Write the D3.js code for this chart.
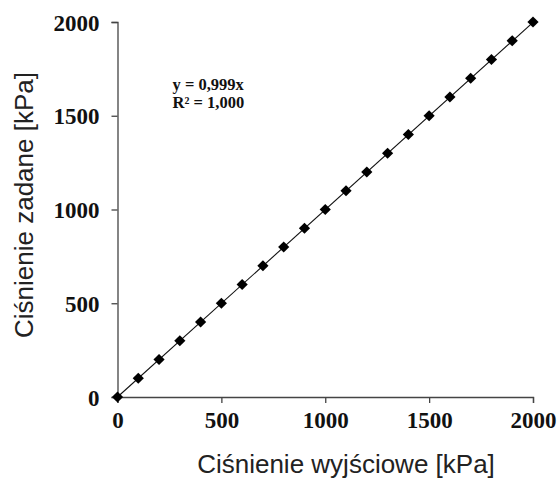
<!DOCTYPE html>
<html>
<head>
<meta charset="utf-8">
<script src="https://cdn.jsdelivr.net/npm/d3@7"></script>
<style>
  body { margin: 0; background: #fff; }
</style>
</head>
<body>
<div id="chart"></div>
<script>
// dane pomiarowe
const wyjsciowe = [0, 100, 200, 300, 400, 500, 600, 700, 800, 900, 1000, 1100, 1200, 1300, 1400, 1500, 1600, 1700, 1800, 1900, 2000];
const zadane = [0, 100, 200, 300, 400, 500, 600, 700, 800, 900, 1000, 1100, 1200, 1300, 1400, 1500, 1600, 1700, 1800, 1900, 2000];
const xTicks = [0, 500, 1000, 1500, 2000];
const yTicks = [0, 500, 1000, 1500, 2000];
const slope = 0.999;
const eqLines = ["y = 0,999x", "R² = 1,000"];

const W = 558, H = 482;
const margin = { top: 22, right: 25, bottom: 85, left: 117.5 };
const width = W - margin.left - margin.right;
const height = H - margin.top - margin.bottom;

const svg = d3.select("#chart").append("svg")
    .attr("width", W)
    .attr("height", H);

const g = svg.append("g")
    .attr("transform", `translate(${margin.left},${margin.top})`);

const x = d3.scaleLinear().domain([0, 2000]).range([0, width]);
const y = d3.scaleLinear().domain([0, 2000]).range([height, 0]);

// osie
const xAxis = g.append("g")
    .attr("transform", `translate(0,${height})`)
    .call(d3.axisBottom(x).tickValues(xTicks).tickFormat(d3.format("d"))
        .tickSize(6).tickSizeOuter(6).tickPadding(8));
const yAxis = g.append("g")
    .call(d3.axisLeft(y).tickValues(yTicks).tickFormat(d3.format("d"))
        .tickSize(6).tickSizeOuter(6).tickPadding(12));

[xAxis, yAxis].forEach(a => {
    a.select(".domain").attr("stroke", "#444").attr("stroke-width", 1.3);
    a.selectAll(".tick line").attr("stroke", "#444").attr("stroke-width", 1.3);
    a.selectAll("text")
        .style("font-family", "'Liberation Serif', 'Times New Roman', serif")
        .style("font-weight", "bold")
        .style("font-size", "23px")
        .attr("fill", "#111");
});
yAxis.selectAll("text").attr("dy", "0.35em");
xAxis.selectAll("text").attr("dy", "0.75em");

// linia trendu
g.append("line")
    .attr("x1", x(0)).attr("y1", y(0))
    .attr("x2", x(2000)).attr("y2", y(2000 * slope))
    .attr("stroke", "#111")
    .attr("stroke-width", 1.1);

// punkty
const diamond = d3.symbol().type(d3.symbolDiamond2).size(80);
g.selectAll(".pt")
    .data(wyjsciowe.map((v, i) => [v, zadane[i]]))
    .enter()
    .append("path")
    .attr("class", "pt")
    .attr("d", diamond)
    .attr("transform", d => `translate(${x(d[0])},${y(d[1])})`)
    .attr("fill", "#000");

// równanie
g.selectAll(".eq")
    .data(eqLines)
    .enter()
    .append("text")
    .attr("x", 55)
    .attr("y", (d, i) => 68 + i * 17.5)
    .style("font-family", "'Liberation Serif', 'Times New Roman', serif")
    .style("font-weight", "bold")
    .style("font-size", "16.5px")
    .attr("fill", "#111")
    .text(d => d);

// tytuły osi
svg.append("text")
    .attr("x", 346)
    .attr("y", 473)
    .attr("text-anchor", "middle")
    .style("font-family", "'Liberation Sans', Arial, sans-serif")
    .style("font-size", "26px")
    .attr("fill", "#222")
    .text("Ciśnienie wyjściowe [kPa]");

svg.append("text")
    .attr("transform", `translate(33,205) rotate(-90)`)
    .attr("text-anchor", "middle")
    .style("font-family", "'Liberation Sans', Arial, sans-serif")
    .style("font-size", "26px")
    .attr("fill", "#222")
    .text("Ciśnienie zadane [kPa]");
</script>
</body>
</html>
